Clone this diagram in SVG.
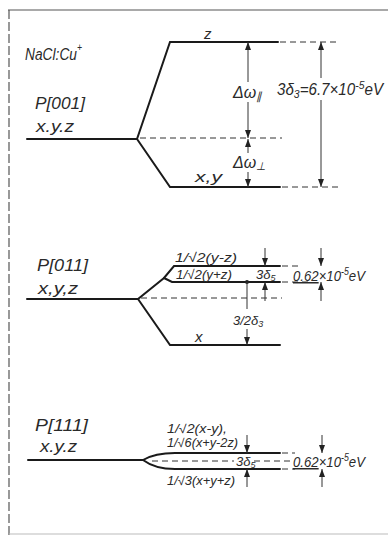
<svg xmlns="http://www.w3.org/2000/svg" width="388" height="538" viewBox="0 0 388 538">
<defs>
<style>
.t{font-family:"Liberation Sans",Arial,sans-serif;font-style:italic;fill:#2a2a2a}
.lv{stroke:#1a1a1a;stroke-width:2;fill:none;stroke-linecap:round}
.ds{stroke:#333;stroke-width:1;stroke-dasharray:6,4;fill:none}
.ar{stroke:#333;stroke-width:1;fill:none}
.fr{stroke:#555;stroke-width:1.2;fill:none}
</style>
<marker id="ah" viewBox="0 0 8 6" refX="8" refY="3" markerWidth="8" markerHeight="6" markerUnits="userSpaceOnUse" orient="auto">
<path d="M0,0 L8,3 L0,6 z" fill="#222"/>
</marker>
</defs>
<rect width="388" height="538" fill="#fff"/>
<g id="frame">
<line class="fr" x1="8" y1="10" x2="388" y2="10"/>
<line class="fr" x1="9" y1="10" x2="9" y2="535" stroke-dasharray="9,3" stroke="#888"/>
<line x1="9" y1="534" x2="388" y2="534" stroke="#bbb" stroke-width="1"/>
</g>
<g id="title">
<text class="t" x="25" y="60" font-size="16" textLength="57" lengthAdjust="spacingAndGlyphs">NaCl:Cu<tspan font-size="10" dy="-9">+</tspan></text>
</g>

<g id="p001">
<text class="t" x="35" y="109" font-size="16" textLength="50" lengthAdjust="spacingAndGlyphs">P[001]</text>
<text class="t" x="36" y="132" font-size="16" textLength="38" lengthAdjust="spacingAndGlyphs">x.y.z</text>
<polyline class="lv" points="27,139 137,139 170,42 278,42"/>
<polyline class="lv" points="137,139 170,187 280,187"/>
<line class="ds" x1="140" y1="138" x2="282" y2="138"/>
<line class="ds" x1="280" y1="42" x2="340" y2="42"/>
<line class="ds" x1="282" y1="187" x2="340" y2="187"/>
<text class="t" x="204" y="39" font-size="15">z</text>
<text class="t" x="195" y="182" font-size="15" textLength="27" lengthAdjust="spacingAndGlyphs">x,y</text>
</g>
<g id="p001-dims">
<line class="ar" x1="248" y1="82" x2="248" y2="42" marker-end="url(#ah)"/>
<line class="ar" x1="248" y1="102" x2="248" y2="138" marker-end="url(#ah)"/>
<text class="t" x="233" y="98" font-size="16">Δω<tspan font-size="11" dy="2">∥</tspan></text>
<line class="ar" x1="248" y1="153" x2="248" y2="139" marker-end="url(#ah)"/>
<line class="ar" x1="248" y1="172" x2="248" y2="187" marker-end="url(#ah)"/>
<text class="t" x="233" y="168" font-size="16">Δω<tspan font-size="11" dy="2">⊥</tspan></text>
<line class="ar" x1="321" y1="78" x2="321" y2="42" marker-end="url(#ah)"/>
<line class="ar" x1="321" y1="100" x2="321" y2="187" marker-end="url(#ah)"/>
<text class="t" x="277" y="95" font-size="16" textLength="106" lengthAdjust="spacingAndGlyphs">3δ<tspan font-size="11" dy="3">3</tspan><tspan dy="-3">=6.7×10</tspan><tspan font-size="11" dy="-6">-5</tspan><tspan dy="6">eV</tspan></text>
</g>

<g id="p011">
<text class="t" x="37" y="271" font-size="16" textLength="51" lengthAdjust="spacingAndGlyphs">P[011]</text>
<text class="t" x="38" y="294" font-size="16" textLength="40" lengthAdjust="spacingAndGlyphs">x,y,z</text>
<polyline class="lv" points="27,299 138,299 164,278 174,266 280,266"/>
<polyline class="lv" points="164,278 172,282 280,282"/>
<polyline class="lv" points="138,299 170,345 280,345"/>
<line class="ds" x1="141" y1="298" x2="282" y2="298"/>
<line class="ds" x1="282" y1="266" x2="302" y2="266"/>
<line class="ds" x1="282" y1="282" x2="312" y2="282"/>
<text class="t" x="175" y="262" font-size="13" textLength="62" lengthAdjust="spacingAndGlyphs">1/√2(y-z)</text>
<text class="t" x="176" y="279" font-size="13" textLength="56" lengthAdjust="spacingAndGlyphs">1/√2(y+z)</text>
<text class="t" x="256" y="279" font-size="13">3δ<tspan font-size="9" dy="2">5</tspan></text>
<text class="t" x="195" y="342" font-size="15">x</text>
</g>
<g id="p011-dims">
<line class="ar" x1="265" y1="248" x2="265" y2="266" marker-end="url(#ah)"/>
<line class="ar" x1="265" y1="301" x2="265" y2="282" marker-end="url(#ah)"/>
<circle cx="247" cy="282" r="2" fill="#222"/>
<line class="ar" x1="247" y1="282" x2="247" y2="309"/>
<line class="ar" x1="247" y1="329" x2="247" y2="345" marker-end="url(#ah)"/>
<text class="t" x="233" y="325" font-size="13">3/2δ<tspan font-size="9" dy="2">3</tspan></text>
<line class="ar" x1="321" y1="248" x2="321" y2="266" marker-end="url(#ah)"/>
<line class="ar" x1="321" y1="301" x2="321" y2="282" marker-end="url(#ah)"/>
<text class="t" x="293" y="281" font-size="15" textLength="72" lengthAdjust="spacingAndGlyphs"><tspan text-decoration="underline">0.62</tspan>×10<tspan font-size="10" dy="-6">-5</tspan><tspan dy="6">eV</tspan></text>
</g>

<g id="p111">
<text class="t" x="35" y="431" font-size="16" textLength="53" lengthAdjust="spacingAndGlyphs">P[111]</text>
<text class="t" x="40" y="452" font-size="16" textLength="37" lengthAdjust="spacingAndGlyphs">x.y.z</text>
<line class="lv" x1="28" y1="460" x2="143" y2="460"/>
<path class="lv" d="M143,460 Q155,453 175,453 L280,453"/>
<path class="lv" d="M143,460 Q155,469 175,469 L280,469"/>
<line class="ds" x1="152" y1="461" x2="234" y2="461"/>
<line class="ds" x1="254" y1="461" x2="292" y2="461"/>
<line class="ds" x1="282" y1="453" x2="295" y2="453"/>
<line class="ds" x1="282" y1="469" x2="295" y2="469"/>
<text class="t" x="167" y="433" font-size="12" textLength="60" lengthAdjust="spacingAndGlyphs">1/√2(x-y),</text>
<text class="t" x="167" y="447" font-size="12" textLength="71" lengthAdjust="spacingAndGlyphs">1/√6(x+y-2z)</text>
<text class="t" x="167" y="485" font-size="12" textLength="68" lengthAdjust="spacingAndGlyphs">1/√3(x+y+z)</text>
<text class="t" x="236" y="466" font-size="13">3δ<tspan font-size="9" dy="2">5</tspan></text>
</g>
<g id="p111-dims">
<line class="ar" x1="247" y1="435" x2="247" y2="453" marker-end="url(#ah)"/>
<line class="ar" x1="247" y1="487" x2="247" y2="469" marker-end="url(#ah)"/>
<line class="ar" x1="322" y1="435" x2="322" y2="453" marker-end="url(#ah)"/>
<line class="ar" x1="322" y1="487" x2="322" y2="469" marker-end="url(#ah)"/>
<text class="t" x="293" y="467" font-size="15" textLength="72" lengthAdjust="spacingAndGlyphs"><tspan text-decoration="underline">0.62</tspan>×10<tspan font-size="10" dy="-6">-5</tspan><tspan dy="6">eV</tspan></text>
</g>
</svg>
